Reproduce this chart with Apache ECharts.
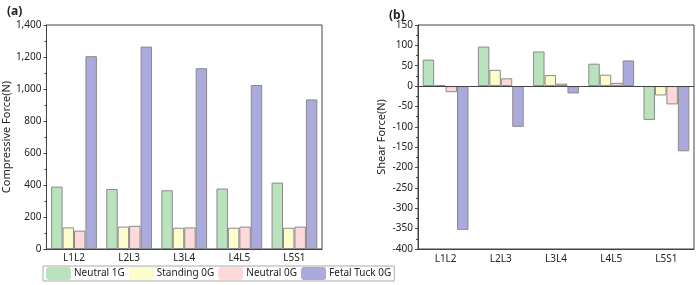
<!DOCTYPE html>
<html>
<head>
<meta charset="utf-8">
<script src="https://cdn.jsdelivr.net/npm/echarts@6/dist/echarts.min.js"></script>
<style>
  html, body { margin: 0; padding: 0; background: #fff; }
  #chart { width: 697px; height: 285px; }
</style>
</head>
<body>
<div id="chart"></div>
<script>
// levels of the spine
const levels = ['L1L2', 'L2L3', 'L3L4', 'L4L5', 'L5S1'];
const seriesNames = ['Neutral 1G', 'Standing 0G', 'Neutral 0G', 'Fetal Tuck 0G'];
const colors = ['#b9e3bd', '#fdfccb', '#fdd9d9', '#aaaadc'];

// compressive force (N), panel a
const compNeutral1G = [390, 375, 367, 378, 415];
const compStanding0G = [135, 140, 133, 133, 133];
const compNeutral0G = [115, 145, 135, 140, 140];
const compFetal0G = [1205, 1265, 1130, 1025, 935];

// shear force (N), panel b
const shearNeutral1G = [65, 97, 85, 55, -83];
const shearStanding0G = [2, 40, 27, 28, -23];
const shearNeutral0G = [-15, 19, 6, 8, -45];
const shearFetal0G = [-353, -100, -18, 63, -160];

const compData = [compNeutral1G, compStanding0G, compNeutral0G, compFetal0G];
const shearData = [shearNeutral1G, shearStanding0G, shearNeutral0G, shearFetal0G];

const font = 'Noto Sans';
const axisColor = '#444';

function bars(data, idx) {
  return data.map((d, i) => ({
    name: seriesNames[i],
    type: 'bar',
    xAxisIndex: idx,
    yAxisIndex: idx,
    data: d,
    barGap: '0%',
    barCategoryGap: '17%',
    itemStyle: { color: colors[i], borderColor: '#8a8a8a', borderWidth: 1 }
  }));
}

const shearSeries = bars(shearData, 1);
shearSeries[0].markLine = {
  silent: true,
  symbol: 'none',
  label: { show: false },
  lineStyle: { color: axisColor, width: 1, type: 'solid' },
  data: [{ yAxis: 0 }]
};

const chart = echarts.init(document.getElementById('chart'));
chart.setOption({
  animation: false,
  textStyle: { fontFamily: font },
  title: [
    { text: '(a)', left: 2, top: 1, textStyle: { fontSize: 12, fontWeight: 'bold', color: '#222' } },
    { text: '(b)', left: 384, top: 5, textStyle: { fontSize: 12, fontWeight: 'bold', color: '#222' } }
  ],
  legend: {
    data: seriesNames,
    left: 43,
    top: 266,
    padding: [1, 3, 1, 3],
    itemWidth: 25,
    itemHeight: 13,
    itemGap: 4,
    borderColor: '#aaa',
    borderWidth: 1,
    textStyle: { fontSize: 10, color: '#222', fontFamily: font, padding: [0, 0, 0, -2] },
    itemStyle: { borderWidth: 0 }
  },
  grid: [
    { left: 44, right: 375, top: 25, bottom: 36, show: true, borderColor: axisColor, borderWidth: 1 },
    { left: 418, right: 3, top: 25, bottom: 36, show: true, borderColor: axisColor, borderWidth: 1 }
  ],
  xAxis: [
    {
      type: 'category', gridIndex: 0, data: levels,
      axisLine: { lineStyle: { color: axisColor } },
      axisTick: { show: false },
      axisLabel: { color: '#222', fontSize: 10, margin: 4 }
    },
    {
      type: 'category', gridIndex: 1, data: levels,
      axisLine: { onZero: false, lineStyle: { color: axisColor } },
      axisTick: { alignWithLabel: true, length: 4, lineStyle: { color: axisColor } },
      axisLabel: { color: '#222', fontSize: 10, margin: 5 }
    }
  ],
  yAxis: [
    {
      type: 'value', gridIndex: 0, min: 0, max: 1400, interval: 200,
      name: 'Compressive Force(N)', nameLocation: 'middle', nameGap: 32,
      nameTextStyle: { fontSize: 11, color: '#222' },
      axisLine: { show: true, lineStyle: { color: axisColor } },
      axisTick: { show: true, length: 3, lineStyle: { color: axisColor } },
      minorTick: { show: true, splitNumber: 2, length: 2, lineStyle: { color: axisColor } },
      splitLine: { show: false },
      axisLabel: { color: '#222', fontSize: 10, margin: 5,
        formatter: v => v.toLocaleString('en-US') }
    },
    {
      type: 'value', gridIndex: 1, min: -400, max: 150, interval: 50,
      name: 'Shear Force(N)', nameLocation: 'middle', nameGap: 31,
      nameTextStyle: { fontSize: 11, color: '#222' },
      axisLine: { show: true, onZero: false, lineStyle: { color: axisColor } },
      axisTick: { show: true, length: 3, lineStyle: { color: axisColor } },
      minorTick: { show: true, splitNumber: 2, length: 2, lineStyle: { color: axisColor } },
      splitLine: { show: false },
      axisLabel: { color: '#222', fontSize: 10, margin: 5 }
    }
  ],
  series: bars(compData, 0).concat(shearSeries)
});
</script>
</body>
</html>
